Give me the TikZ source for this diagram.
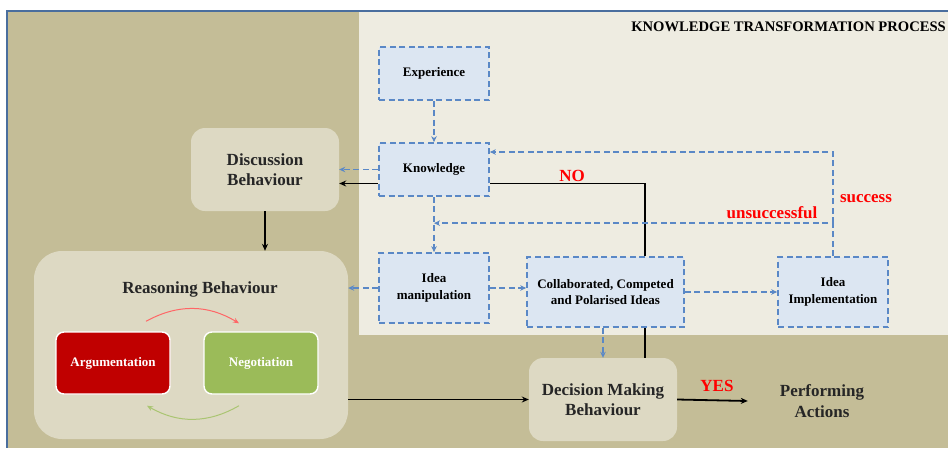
\documentclass[tikz,border=0pt]{standalone}
\usepackage{fontspec}
\setmainfont{Liberation Serif}
\usetikzlibrary{arrows.meta}
\definecolor{tandark}{HTML}{C4BD97}
\definecolor{tanlight}{HTML}{EEECE1}
\definecolor{behfill}{HTML}{DDD9C3}
\definecolor{behtext}{HTML}{262626}
\definecolor{kblue}{HTML}{5A88C6}
\definecolor{kfill}{HTML}{DCE6F2}
\definecolor{argred}{HTML}{C00000}
\definecolor{neggreen}{HTML}{9BBB59}
\definecolor{framec}{HTML}{4A6E9E}

\begin{document}
\begin{tikzpicture}[
	x=1pt, y=-1pt,
	procbox/.style={ draw=kblue, dash pattern=on 6pt off 3.5pt, line width=1.7pt, fill=kfill, align=center, inner sep=0pt, font=\bfseries\fontsize{13}{16.5}\selectfont },
	behbox/.style={ fill=behfill, rounded corners=14pt, align=center, inner sep=0pt, text=behtext, font=\bfseries\fontsize{17}{20.5}\selectfont },
	colbox/.style={ draw=white, line width=1.4pt, rounded corners=8pt, text=white, minimum width=114pt, minimum height=62pt, font=\bfseries\fontsize{13}{16}\selectfont },
	dasharrow/.style={ draw=kblue, dash pattern=on 6pt off 3.5pt, line width=1.7pt, -{Stealth[length=6pt,width=5.5pt]} },
	blackarrow/.style={ line width=1.8pt, -{Stealth[length=7pt,width=6pt]} },
	redlabel/.style={ text=red, inner sep=0pt, font=\bfseries\fontsize{17}{20}\selectfont }
]
\useasboundingbox (0,0) rectangle (948,448);
\fill[tandark] (7,11) rectangle (948,448);
\draw[framec, line width=1.2pt] (948,11) -- (7,11) -- (7,448);
\fill[tanlight] (359,11.6) rectangle (948,335);

\node[anchor=base east, inner sep=0pt, font=\bfseries\fontsize{14.6}{16}\selectfont] (title) at (946,31.5) {KNOWLEDGE TRANSFORMATION PROCESS};

\node[procbox, minimum width=110pt, minimum height=53pt] (exper) at (434,73.5) {Experience};
\node[procbox, minimum width=110pt, minimum height=53pt] (know) at (434,169.5) {Knowledge};
\node[procbox, minimum width=110pt, minimum height=70pt] (ideaman) at (434,288) {Idea\\manipulation};
\node[procbox, minimum width=157pt, minimum height=70pt] (collab) at (605.5,292) {Collaborated, Competed\\and Polarised Ideas};
\node[procbox, minimum width=110pt, minimum height=70pt] (implem) at (833,292) {Idea\\Implementation};

\node[behbox, minimum width=148pt, minimum height=83pt] (disc) at (265,169.5) {Discussion\\Behaviour};
\node[behbox, rounded corners=28pt, minimum width=314pt, minimum height=188pt] (reason) at (191,345) {};
\node[behbox] (reasonlab) at (200,289) {Reasoning Behaviour};
\node[colbox, fill=argred] (argu) at (113,363) {Argumentation};
\node[colbox, fill=neggreen] (nego) at (261,363) {Negotiation};
\node[behbox, minimum width=148pt, minimum height=83pt] (decis) at (603,399.5) {Decision Making\\Behaviour};
\node[behbox, fill=none] (perform) at (822,401) {Performing\\Actions};

\draw[dasharrow] (exper) -- (know);
\draw[dasharrow] (know) -- (ideaman);
\draw[dasharrow] (know.west) -- (disc.east);
\draw[blackarrow] ([yshift=-14pt]know.west) -- ([yshift=-14pt]disc.east);
\draw[blackarrow] (disc.south) -- (disc.south |- reason.north);
\draw[dasharrow] (ideaman.west) -- (ideaman.west -| reason.east);
\draw[dasharrow] (ideaman.east) -- (ideaman.east -| collab.west);
\draw[dasharrow] (collab.east) -- (implem.west);
\draw[dasharrow] (decis.north |- collab.south) -- (decis.north);

\coordinate (nox) at (645,0);
\draw[line width=1.8pt] (decis.north -| nox) -- (collab.south -| nox);
\draw[line width=1.8pt] (collab.north -| nox) |- ([yshift=-14pt]know.east);
\node[redlabel] (nolab) at (572,176) {NO};

\coordinate (unsucc) at ([yshift=33pt]implem.north);
\draw[dasharrow] (implem.north) -- (unsucc) -- (unsucc -| know.south);
\draw[dasharrow] (unsucc) |- ([yshift=17.5pt]know.east);
\node[redlabel] (unsucclab) at (772,213) {unsuccessful};
\node[redlabel] (succlab) at (866,199) {success};

\draw[blackarrow] (decis.west -| reason.east) -- (decis.west);
\draw[blackarrow] (decis.east) -- ([xshift=-32pt]perform.west);
\node[redlabel] (yeslab) at (717,386) {YES};

\draw[red!60, line width=1pt, -{Stealth[length=6pt,width=5pt]}] ([xshift=33pt,yshift=10pt]argu.north) to[bend left=30] ([xshift=-22pt,yshift=8pt]nego.north);
\draw[neggreen!85!white, line width=1pt, -{Stealth[length=6pt,width=5pt]}] ([xshift=-22pt,yshift=-11pt]nego.south) to[bend left=30] ([xshift=34pt,yshift=-11pt]argu.south);

\end{tikzpicture}
\end{document}
